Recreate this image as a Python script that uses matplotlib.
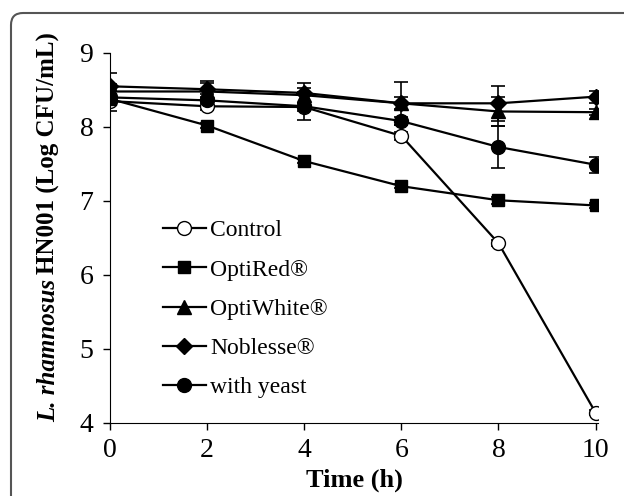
import numpy as np
import matplotlib.pyplot as plt
from matplotlib.lines import Line2D
from matplotlib.patches import FancyBboxPatch

plt.rcParams['font.family'] = 'Liberation Serif'

time_h = [0, 2, 4, 6, 8, 10]

control = [8.35, 8.28, 8.27, 7.88, 6.43, 4.14]
optired = [8.38, 8.02, 7.54, 7.20, 7.01, 6.94]
optiwhite = [8.48, 8.48, 8.43, 8.32, 8.21, 8.20]
noblesse = [8.55, 8.51, 8.46, 8.32, 8.32, 8.41]
yeast = [8.40, 8.36, 8.28, 8.08, 7.73, 7.49]

control_err = [0.14, 0.05, 0.05, 0.05, 0.04, 0.03]
optired_err = [0.03, 0.03, 0.03, 0.03, 0.05, 0.03]
optiwhite_err = [0.10, 0.12, 0.10, 0.08, 0.19, 0.04]
noblesse_err = [0.18, 0.11, 0.14, 0.29, 0.24, 0.08]
yeast_err = [0.10, 0.08, 0.19, 0.05, 0.28, 0.11]

labels = ['Control', 'OptiRed®', 'OptiWhite®', 'Noblesse®', 'with yeast']
series = [control, optired, optiwhite, noblesse, yeast]
errors = [control_err, optired_err, optiwhite_err, noblesse_err, yeast_err]
markers = ['o', 's', '^', 'D', 'o']
faces = ['white', 'black', 'black', 'black', 'black']
sizes = [10, 9, 10, 8.5, 10]

W, H = 624, 496
fig = plt.figure(figsize=(W / 100, H / 100), dpi=100)
ax = fig.add_axes([110 / W, 1 - 423 / H, 488 / W, 370 / H])

handles = []
for y, e, m, fc, ms, lab in zip(series, errors, markers, faces, sizes, labels):
    ax.errorbar(time_h, y, yerr=e, color='black', marker=m, markerfacecolor=fc,
                markeredgecolor='black', markersize=ms, linewidth=1.6,
                elinewidth=1.2, capsize=5, capthick=1.2)
    handles.append(Line2D([], [], color='black', marker=m, markerfacecolor=fc,
                          markeredgecolor='black', markersize=ms, linewidth=1.6,
                          label=lab))

ax.set_xlim(0, 10.05)
ax.set_ylim(4, 9)
ax.set_xticks([0, 2, 4, 6, 8, 10])
ax.set_yticks([4, 5, 6, 7, 8, 9])
ax.spines['top'].set_visible(False)
ax.spines['right'].set_visible(False)
ax.tick_params(direction='out', length=5, width=1, labelsize=20)
ax.tick_params(axis='y', pad=7)
ax.tick_params(axis='x', pad=6)

ax.set_xlabel('Time (h)', fontsize=19, fontweight='bold', labelpad=4)

ax.legend(handles=handles, loc='upper left', bbox_to_anchor=(0.109, 0.549),
          frameon=False, fontsize=17, handlelength=1.8, handletextpad=0.2,
          labelspacing=0.75, borderaxespad=0, borderpad=0)

# y label: italic species name + bold remainder, placed as two rotated texts
label_x = 60 / W
label_center = (H - 227) / H
kw = dict(rotation=90, rotation_mode='anchor', ha='left', va='bottom',
          fontsize=18, fontweight='bold')
t1 = fig.text(label_x, 0, 'L. rhamnosus', style='italic', **kw)
t2 = fig.text(label_x, 0, 'HN001 (Log CFU/mL)', **kw)
fig.canvas.draw()
r = fig.canvas.get_renderer()
h1 = t1.get_window_extent(r).height
h2 = t2.get_window_extent(r).height
gap = 5
start = label_center * H - (h1 + gap + h2) / 2
t1.set_y(start / H)
t2.set_y((start + h1 + gap) / H)

frame = FancyBboxPatch((0.11, -0.4), 6.6, 4.83 + 0.4,
                       boxstyle='round,pad=0,rounding_size=0.12',
                       transform=fig.dpi_scale_trans, facecolor='none',
                       edgecolor='#555555', linewidth=1.5, clip_on=False)
fig.add_artist(frame)

fig.savefig('out.png', dpi=100)
